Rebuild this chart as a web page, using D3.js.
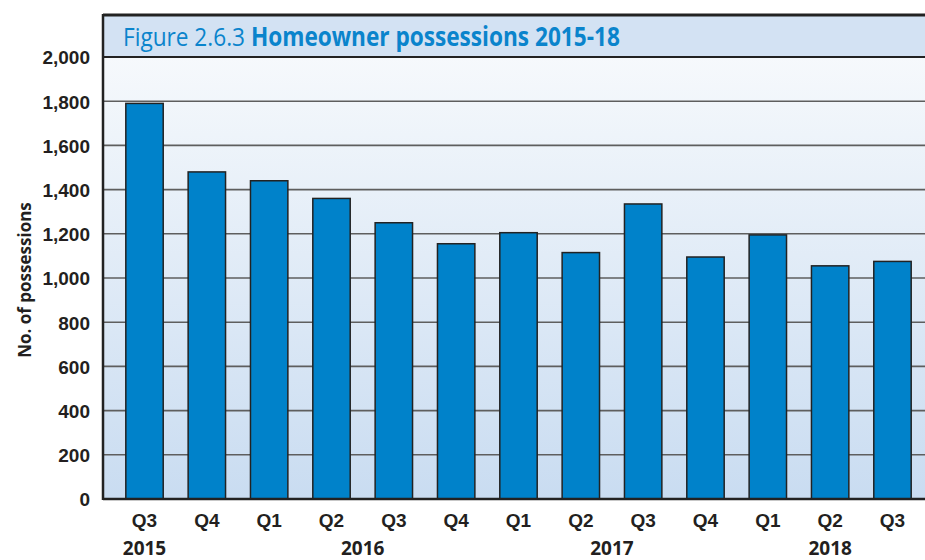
<!DOCTYPE html>
<html>
<head>
<meta charset="utf-8">
<script src="https://cdn.jsdelivr.net/npm/d3@7"></script>
<style>
  body { margin: 0; background: #fff; }
  svg { display: block; font-family: "Liberation Sans Narrow", "Open Sans", sans-serif; }
</style>
</head>
<body>
<svg id="chart"></svg>
<script>
// quarters on the x axis, keyed by year so the labels can repeat
const quarters = ["2015 Q3", "2015 Q4", "2016 Q1", "2016 Q2", "2016 Q3", "2016 Q4",
  "2017 Q1", "2017 Q2", "2017 Q3", "2017 Q4", "2018 Q1", "2018 Q2", "2018 Q3"];
const possessions = [1790, 1480, 1440, 1360, 1250, 1155, 1205, 1115, 1335, 1095, 1195, 1055, 1075];
const yTicks = [0, 200, 400, 600, 800, 1000, 1200, 1400, 1600, 1800, 2000];
// year label sits under the middle of the quarters listed with it
const years = ["2015", "2016", "2017", "2018"];
const yearAnchors = [["2015 Q3"], ["2016 Q2", "2016 Q3"], ["2017 Q2", "2017 Q3"], ["2018 Q2"]];

const data = quarters.map((q, i) => ({ key: q, value: possessions[i] }));

const W = 925, H = 560;
const FRAME = { left: 103, top: 14, band: 57, bottom: 499, right: 934 };

const svg = d3.select("#chart").attr("width", W).attr("height", H);

const x = d3.scaleBand()
  .domain(quarters)
  .range([FRAME.left, FRAME.right])
  .paddingInner(0.4)
  .paddingOuter(0.366);
const y = d3.scaleLinear().domain([0, 2000]).range([FRAME.bottom, FRAME.band]);

// plot background gradient
const defs = svg.append("defs");
const grad = defs.append("linearGradient").attr("id", "bg")
  .attr("x1", 0).attr("y1", 0).attr("x2", 0).attr("y2", 1);
grad.append("stop").attr("offset", "0%").attr("stop-color", "#f6f9fc");
grad.append("stop").attr("offset", "100%").attr("stop-color", "#c9dcf1");

svg.append("rect")
  .attr("x", FRAME.left).attr("y", FRAME.band)
  .attr("width", W - FRAME.left + 10).attr("height", FRAME.bottom - FRAME.band)
  .attr("fill", "url(#bg)");

// title band
svg.append("rect")
  .attr("x", FRAME.left).attr("y", FRAME.top)
  .attr("width", W - FRAME.left + 10).attr("height", FRAME.band - FRAME.top)
  .attr("fill", "#d3e2f3");

// title: the original uses a condensed face, so squeeze Open Sans to the same width
const title = svg.append("text")
  .attr("x", 0).attr("y", 0)
  .attr("fill", "#0a84cc")
  .style("font-family", "'Open Sans', sans-serif")
  .style("font-size", "26px");
title.append("tspan").text("Figure 2.6.3 ");
title.append("tspan").attr("font-weight", "bold").text("Homeowner possessions 2015-18");
const titleW = title.node().getComputedTextLength();
title.attr("transform", `translate(123,46) scale(${497 / titleW},1)`);

// gridlines
svg.append("g")
  .selectAll("line")
  .data(yTicks.filter(d => d > 0 && d < 2000))
  .join("line")
  .attr("x1", FRAME.left).attr("x2", W)
  .attr("y1", d => y(d)).attr("y2", d => y(d))
  .attr("stroke", "#5e5e5e")
  .attr("stroke-width", 1.6);

// bars
svg.append("g")
  .selectAll("rect")
  .data(data)
  .join("rect")
  .attr("x", d => x(d.key))
  .attr("y", d => y(d.value))
  .attr("width", x.bandwidth())
  .attr("height", d => y(0) - y(d.value))
  .attr("fill", "#0082ca")
  .attr("stroke", "#222")
  .attr("stroke-width", 1.5);

// frame lines
const frame = svg.append("g").attr("stroke", "#222").attr("fill", "none");
frame.append("line").attr("x1", FRAME.left).attr("x2", W).attr("y1", FRAME.top + 1).attr("y2", FRAME.top + 1).attr("stroke-width", 3);
frame.append("line").attr("x1", FRAME.left).attr("x2", W).attr("y1", FRAME.band).attr("y2", FRAME.band).attr("stroke-width", 2);
frame.append("line").attr("x1", FRAME.left).attr("x2", W).attr("y1", FRAME.bottom).attr("y2", FRAME.bottom).attr("stroke-width", 2.5);
frame.append("line").attr("x1", FRAME.left).attr("x2", FRAME.left).attr("y1", FRAME.top).attr("y2", FRAME.bottom + 1).attr("stroke-width", 2.5);

// y axis labels
svg.append("g")
  .attr("transform", `translate(${FRAME.left - 13},0)`)
  .call(d3.axisLeft(y).tickValues(yTicks).tickSize(0).tickFormat(d3.format(",")))
  .call(g => g.select(".domain").remove())
  .call(g => g.selectAll("text")
    .attr("x", 0).attr("dy", "0.36em")
    .attr("fill", "#231f20")
    .style("font-family", "inherit")
    .style("font-size", "19px")
    .style("font-weight", "bold"));

// x axis labels
svg.append("g")
  .attr("transform", `translate(0,${FRAME.bottom})`)
  .call(d3.axisBottom(x).tickSize(0).tickFormat(d => d.split(" ")[1]))
  .call(g => g.select(".domain").remove())
  .call(g => g.selectAll("text")
    .attr("y", 0).attr("dy", "28px")
    .attr("fill", "#231f20")
    .style("font-family", "inherit")
    .style("font-size", "19px")
    .style("font-weight", "bold"));

// year labels
svg.append("g")
  .selectAll("text")
  .data(years)
  .join("text")
  .attr("x", (d, i) => d3.mean(yearAnchors[i], q => x(q) + x.bandwidth() / 2))
  .attr("y", 555)
  .attr("text-anchor", "middle")
  .attr("fill", "#231f20")
  .style("font-size", "19px")
  .style("font-weight", "bold")
  .text(d => d);

// y axis title
svg.append("text")
  .attr("transform", "translate(31,280) rotate(-90)")
  .attr("text-anchor", "middle")
  .attr("fill", "#231f20")
  .style("font-size", "17px")
  .style("font-weight", "bold")
  .text("No. of possessions");
</script>
</body>
</html>
